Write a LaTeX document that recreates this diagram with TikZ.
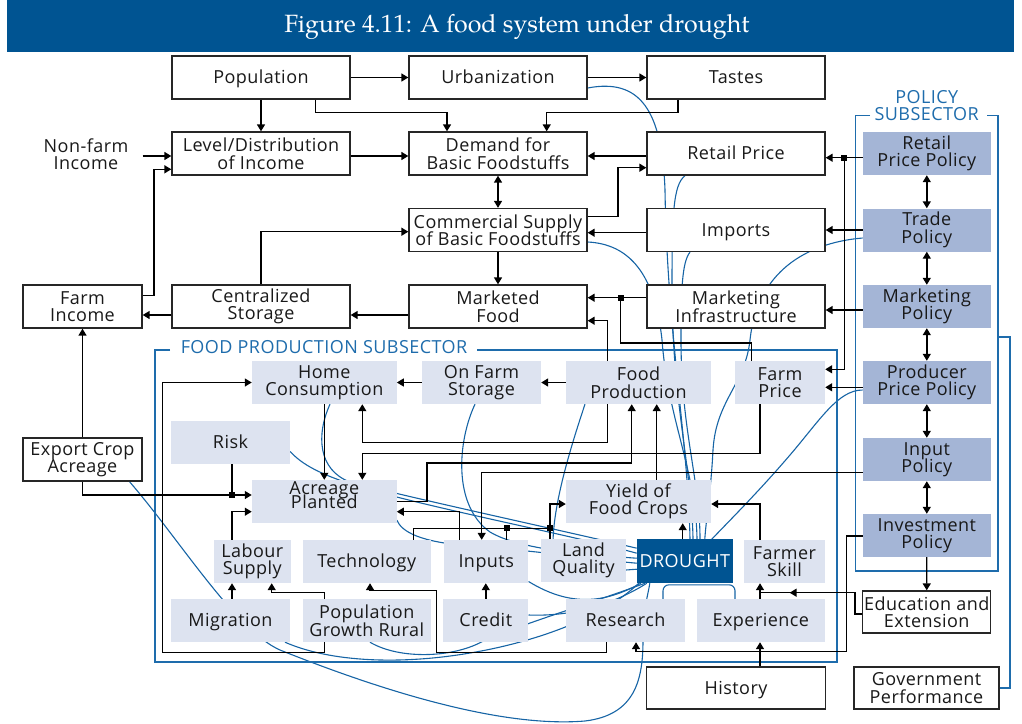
\documentclass[tikz,border=0pt]{standalone}
\usepackage{fontspec}
\newfontfamily\boxfont[LetterSpace=2.5]{Open Sans}
\newfontfamily\headfont{TeX Gyre Pagella}
\usetikzlibrary{arrows.meta,calc,decorations.markings}
\definecolor{barblue}{RGB}{0,84,146}
\definecolor{polfill}{RGB}{164,181,214}
\definecolor{fpsfill}{RGB}{221,227,240}
\definecolor{linkblue}{RGB}{22,100,165}
\definecolor{frameblue}{RGB}{30,108,172}
\newcommand\boxtext{\boxfont\fontsize{18}{17.5}\selectfont\lineskiplimit=-8pt\relax}
\newcommand\tighttext{\boxfont\fontsize{18}{13.5}\selectfont\lineskiplimit=-8pt\relax}
\pgfdeclarelayer{links}
\pgfsetlayers{links,main}

\begin{document}
\begin{tikzpicture}[
  x=1pt, y=-1pt,
  sz/.style 2 args={minimum width=#1, minimum height=#2},
  base/.style={inner sep=0pt, align=center, font=\boxtext, text=black!90},
  one/.style={text height=12.9pt, text depth=0pt},
  wbox/.style={base, draw=black!85, line width=1.3pt, fill=white},
  pbox/.style={base, fill=polfill},
  fbox/.style={base, fill=fpsfill},
  arr/.style={line width=1.4pt, -{Triangle[length=7pt,width=8pt]}},
  dbl/.style={line width=1.4pt, {Triangle[length=7pt,width=8pt]}-{Triangle[length=7pt,width=8pt]}},
  ln/.style={line width=1.4pt},
  midtip/.style={postaction={decorate}, decoration={markings,
      mark=at position #1 with {\arrow{Triangle[length=7pt,width=8pt]}}}},
  link/.style={draw=linkblue, line width=1.1pt},
  frm/.style={draw=frameblue, line width=1.4pt},
  jsq/.style={fill=black, minimum size=6pt, inner sep=0pt},
]
\useasboundingbox (0,0) rectangle (1022,723);

% title bar
\node[fill=barblue, sz={1007pt}{52pt}, inner sep=0pt] (bar) at (510.5,26) {};
\node[text=white, font=\headfont\fontsize{25}{28}\selectfont] (ttl) at (517,27) {Figure 4.11: A food system under drought};

% market side
\node[wbox, one, sz={178pt}{43pt}] (pop) at (261,77.5) {Population};
\node[wbox, one, sz={178pt}{43pt}] (urb) at (498,77.5) {Urbanization};
\node[wbox, one, sz={178pt}{43pt}] (tas) at (736,77.5) {Tastes};
\node[wbox, sz={178pt}{43pt}] (lev) at (261,153.5) {Level/Distribution\\of Income};
\node[wbox, sz={178pt}{43pt}] (dem) at (498,153.5) {Demand for\\Basic Foodstuffs};
\node[wbox, one, sz={178pt}{43pt}] (rp) at (736,153.5) {Retail Price};
\node[base] (nfi) at (86,154) {Non-farm\\Income};
\node[wbox, sz={178pt}{43pt}] (cs) at (498,230) {Commercial Supply\\of Basic Foodstuffs};
\node[wbox, one, sz={178pt}{43pt}] (imp) at (736,230) {Imports};
\node[wbox, sz={119pt}{43pt}] (fin) at (82.5,306.5) {Farm\\Income};
\node[wbox, sz={178pt}{43pt}] (cst) at (261,306.5) {Centralized\\Storage};
\node[wbox, sz={178pt}{43pt}] (mf) at (498,306.5) {Marketed\\Food};
\node[wbox, sz={178pt}{43pt}] (mi) at (736,306.5) {Marketing\\Infrastructure};
\node[wbox, sz={119pt}{43pt}] (eca) at (82.5,459.5) {Export Crop\\Acreage};
\node[wbox, sz={128pt}{42pt}] (ee) at (926.7,612) {Education and\\Extension};
\node[wbox, sz={145pt}{42pt}] (gp) at (926.5,688) {Government\\Performance};
\node[wbox, one, sz={179.5pt}{42pt}] (his) at (736,688) {History};

% policy subsector
\node[pbox, sz={128pt}{43pt}] (rpp) at (926.8,153.5) {Retail\\Price Policy};
\node[pbox, sz={128pt}{43pt}] (tp) at (926.8,230) {Trade\\Policy};
\node[pbox, sz={128pt}{43pt}] (mp) at (926.8,306.5) {Marketing\\Policy};
\node[pbox, sz={128pt}{43pt}] (ppp) at (926.8,382.5) {Producer\\Price Policy};
\node[pbox, sz={128pt}{43pt}] (ip) at (926.8,459.5) {Input\\Policy};
\node[pbox, sz={128pt}{43pt}] (invp) at (926.8,535.5) {Investment\\Policy};

% food production subsector
\node[fbox, sz={144.7pt}{43pt}] (hc) at (324.3,382.5) {Home\\Consumption};
\node[fbox, sz={119pt}{43pt}] (ofs) at (481.5,382.5) {On Farm\\Storage};
\node[fbox, sz={145pt}{43pt}] (fpr) at (638.5,382.5) {Food\\Production};
\node[fbox, sz={90pt}{43pt}] (fp) at (780,382.5) {Farm\\Price};
\node[fbox, one, sz={119pt}{43pt}] (risk) at (230.5,442.5) {Risk};
\node[fbox, sz={144.7pt}{43pt}] (ap) at (324.3,501.5) {};
\node[base, font=\tighttext] (apt) at (324.3,495) {Acreage\\Planted};
\node[fbox, sz={145pt}{43pt}] (yld) at (638.5,501.5) {Yield of\\Food Crops};
\node[fbox, sz={76.7pt}{43pt}] (lab) at (252.3,561.5) {Labour\\Supply};
\node[fbox, one, sz={128pt}{43pt}] (tec) at (366.7,561.5) {Technology};
\node[fbox, one, sz={84.3pt}{43pt}] (inp) at (486.2,561.5) {Inputs};
\node[fbox, sz={85pt}{43pt}] (lq) at (583.5,560.5) {Land\\Quality};
\node[base, one, fill=barblue, text=white, sz={95.7pt}{43.7pt}] (dr) at (684.8,561.2) {DROUGHT};
\node[fbox, sz={81pt}{43pt}] (fs) at (784.5,561.5) {Farmer\\Skill};
\node[fbox, one, sz={119pt}{43pt}] (mig) at (230.5,620.5) {Migration};
\node[fbox, sz={128pt}{43pt}] (pgr) at (366.7,620.5) {Population\\Growth Rural};
\node[fbox, one, sz={85pt}{43pt}] (cr) at (485.8,620.5) {Credit};
\node[fbox, one, sz={119pt}{43pt}] (res) at (625.5,620.5) {Research};
\node[fbox, one, sz={128.3pt}{43pt}] (exp) at (760.8,620.5) {Experience};

% subsector frames
\node[base, one, text=frameblue] (fpst) at (324,347) {FOOD PRODUCTION SUBSECTOR};
\draw[frm] (170,350) -- (155,350) -- (155,662) -- (837,662) -- (837,350) -- (476.7,350);
\node[base, text=frameblue] (pst) at (926.7,105.5) {POLICY\\SUBSECTOR};
\draw[frm] (870,115.7) -- (855.7,115.7) -- (855.7,571) -- (998,571) -- (998,115.7) -- (987,115.7);
\coordinate (pfr) at (998,337);
\draw[frm] (gp.east) -- ++(10.5,0) |- (pfr);

% market connectors
\draw[arr] (pop) -- (urb);
\draw[arr] (urb) -- (tas);
\draw[arr] (pop) -- (lev);
\draw[arr] ([xshift=54.7pt]pop.south) -- ++(0,12.7) -| ([xshift=-51pt]dem.north);
\draw[arr] ([xshift=-58pt]tas.south) -- ++(0,12.7) -| ([xshift=48.7pt]dem.north);
\draw[arr] ([xshift=14pt,yshift=-2pt]nfi.east) -- ([yshift=-2.5pt]lev.west);
\draw[arr] ([yshift=10.8pt]fin.east) -- ++(11.3,0) |- ([yshift=-15.8pt]lev.west);
\draw[arr] ([yshift=-2.5pt]lev.east) -- ([yshift=-2.5pt]dem.west);
\draw[arr] ([yshift=-2.5pt]rp.west) -- ([yshift=-2.5pt]dem.east);
\draw[dbl] (dem) -- (cs);
\draw[arr] ([yshift=13.3pt]cs.east) -- ++(30.3,0) |- ([yshift=-14.2pt]rp.west);
\draw[arr] ([yshift=-2.7pt]imp.west) -- ([yshift=-2.7pt]cs.east);
\draw[arr] (cst.north) |- ([yshift=-1.7pt]cs.west);
\draw[arr] (cs) -- (mf);
\draw[arr] ([yshift=-8.5pt]mf.west) -- ([yshift=-8.5pt]cst.east);
\draw[arr] ([yshift=-8.5pt]cst.west) -- ([yshift=-8.5pt]fin.east);
\coordinate (jmi) at (620.7,297.7);
\draw[arr] ([yshift=8.8pt]mi.west) -- ([yshift=8.8pt]mf.east);
\draw[ln] ([xshift=-28.3pt]fp.north) -- ++(0,-18) -| (jmi);
\node[jsq] (q1) at (jmi) {};
\draw[arr] ([xshift=-30.8pt]fpr.north) |- ([yshift=-14.2pt]mf.east);

% policy connectors
\coordinate (jrp) at (844.3,157.7);
\draw[arr] ([yshift=-4.2pt]rpp.west) -- ([yshift=-4.2pt]rp.east);
\draw[arr] (jrp) |- ([yshift=13.2pt]fp.east);
\node[jsq] (q2) at (jrp) {};
\draw[arr] (tp) -- (imp);
\draw[arr] ([yshift=-3.5pt]mp.west) -- ([yshift=-3.5pt]mi.east);
\draw[arr] ([yshift=-4.8pt]ppp.west) -- ([yshift=-4.8pt]fp.east);
\draw[dbl] (rpp) -- (tp);
\draw[dbl] (tp) -- (mp);
\draw[dbl] (mp) -- (ppp);
\draw[dbl] (ppp) -- (ip);
\draw[dbl] (ip) -- (invp);
\draw[arr] (invp) -- (ee);
\draw[arr] ([yshift=-13.2pt]ip.west) -| ([xshift=-4.5pt]inp.north);
\coordinate (jex) at (760,592.7);
\draw[ln, midtip=0.76] ([yshift=-2pt]ee.west) -- ++(-7,0) |- (jex);
\draw[arr] ([xshift=-0.8pt]exp.north) -- ([xshift=-24.5pt]fs.south);
\draw[arr] ([yshift=-0.5pt]invp.west) -- ++(-16,0) |- ([xshift=10.5pt,yshift=-9.3pt]res.south) -- ([xshift=10.5pt]res.south);
\draw[arr] ([xshift=24pt]his.north) -- ([xshift=-0.8pt]exp.south);

% food production connectors
\draw[arr] (ofs) -- (hc);
\draw[arr] (fpr) -- (ofs);
\draw[arr] ([xshift=-30.8pt]fpr.south) -- ++(0,38.3) -| ([xshift=38pt]hc.south);
\draw[arr] ([xshift=-20pt]fp.south) -- ++(0,49.3) -| ([xshift=38pt]ap.north);
\draw[arr] (hc) -- (ap);
\draw[arr] ([xshift=18.2pt]yld.north) -- ([xshift=18.2pt]fpr.south);
\draw[arr] (ap.east) -- ++(30,0) |- ([xshift=-6.8pt,yshift=-58.7pt]fpr.south) -- ([xshift=-6.8pt]fpr.south);
\draw[arr] ([xshift=-24.5pt]fs.north) |- ([yshift=-2.5pt]yld.east);
\draw[arr] ([xshift=-2.1pt]dr.north) -- ([xshift=44.2pt]yld.south);
\coordinate (jti) at (506.7,528.3);
\coordinate (jlq) at (550,528.3);
\draw[ln] ([xshift=46.6pt]tec.north) |- (jlq);
\draw[ln] ([xshift=20.5pt]inp.north) -- (jti);
\draw[arr] ([xshift=-33.5pt]lq.north) |- ([yshift=-2.5pt]yld.west);
\node[jsq] (q3) at (jti) {};
\node[jsq] (q4) at (jlq) {};
\draw[arr] ([xshift=-26.9pt]inp.north) |- ([yshift=-10.2pt]ap.east);
\draw[arr] (eca) -- (fin);
\coordinate (jrk) at (232,495);
\draw[arr] (eca.south) |- ([yshift=6.5pt]ap.west);
\draw[ln] ([xshift=1.5pt]risk.south) -- (jrk);
\node[jsq] (q5) at (jrk) {};
\draw[arr] ([xshift=-20.3pt]lab.north) |- ([yshift=-10.2pt]ap.west);
\draw[arr] ([xshift=-42.4pt]pgr.south) -- ++(0,10.3) -| ([xshift=-89.3pt]hc.west) -- (hc.west);
\draw[arr] ([xshift=-18.8pt]res.south) -- ++(0,10.3) -| ([xshift=70pt,yshift=-7pt]tec.south) -| ([xshift=3.3pt]tec.south);
\draw[arr] ([xshift=1.5pt]mig.north) -- ([xshift=-20.3pt]lab.south);
\draw[arr] ([xshift=-42.4pt]pgr.north) -- ++(0,-6.3) -| ([xshift=19.4pt]lab.south);
\draw[arr] (cr.north) -- (cr.north |- inp.south);

% drought links, drawn beneath the boxes
\begin{pgfonlayer}{links}
\draw[link] ([yshift=-10.5pt]urb.east) .. controls (640,78) and (662,110) .. (665,190) .. controls (667,330) and (688,440) .. ([xshift=5.2pt]dr.north);
\draw[link] ([xshift=-51pt]rp.south) .. controls (673,185) and (672,215) .. (672,290) .. controls (672,400) and (692,470) .. ([xshift=8.2pt]dr.north);
\draw[link] ([yshift=-12pt]cs.east) .. controls (630,244) and (655,275) .. (662,340) .. controls (668,420) and (696,470) .. ([xshift=12.2pt]dr.north);
\draw[link] ([xshift=-46pt]imp.south) .. controls (682,262) and (681,290) .. (681,340) .. controls (681,430) and (700,480) .. ([xshift=15.2pt]dr.north);
\draw[link] ([yshift=-8pt]tp.west) .. controls (815,242) and (758,265) .. (750,340) .. controls (745,385) and (716,400) .. (713,450) .. controls (711,490) and (706,520) .. ([xshift=20pt]dr.north);
\draw[link] ([yshift=-7.5pt]ppp.west) .. controls (838,390) and (820,420) .. (790,455) .. controls (760,490) and (735,515) .. ([xshift=27pt]dr.north);
\draw[link] ([xshift=5.7pt]hc.south) .. controls (316,435) and (318,470) .. (350,482) .. controls (420,500) and (560,530) .. ([yshift=13pt]dr.west);
\draw[link] ([yshift=-9pt]risk.east) .. controls (305,468) and (330,478) .. (370,490) .. controls (450,512) and (570,535) .. ([yshift=8pt]dr.west);
\draw[link] ([xshift=-6.5pt]ofs.south) .. controls (458,440) and (452,505) .. (490,532) .. controls (520,550) and (590,555) .. ([yshift=3pt]dr.west);
\draw[link] ([yshift=3pt]ap.south east) .. controls (402,532) and (420,542) .. (470,546) .. controls (550,552) and (600,560) .. ([yshift=-2pt]dr.west);
\draw[link] ([xshift=-53.5pt]fpr.south) .. controls (568,455) and (552,510) .. (553,548) .. controls (555,575) and (600,572) .. ([yshift=-8pt]dr.west);
\draw[link] ([xshift=47pt]eca.south) .. controls (180,540) and (235,630) .. (280,650) .. controls (380,690) and (500,728) .. (585,721) .. controls (635,715) and (643,680) .. (643,640) .. controls (643,610) and (648,595) .. ([xshift=-35pt]dr.south);
\draw[link] ([xshift=54.5pt]mig.south) .. controls (330,662) and (400,665) .. (470,653) .. controls (530,643) and (600,620) .. ([xshift=-46pt]dr.south);
\draw[link] ([xshift=3.3pt]pgr.south) .. controls (400,660) and (455,658) .. (485,640) .. controls (520,625) and (600,600) .. ([xshift=-40pt]dr.south);
\draw[link] ([yshift=-20pt]inp.east) .. controls (575,610) and (610,600) .. ([xshift=-44pt]dr.south);
\draw[link] ([yshift=5.5pt]cr.east) .. controls (580,617) and (620,600) .. ([xshift=-38pt]dr.south);
\draw[link, rounded corners=6pt] ([xshift=37.5pt]res.north) -- ++(0,-14) -| ([xshift=-25.8pt]exp.north);
\end{pgfonlayer}
\end{tikzpicture}
\end{document}
